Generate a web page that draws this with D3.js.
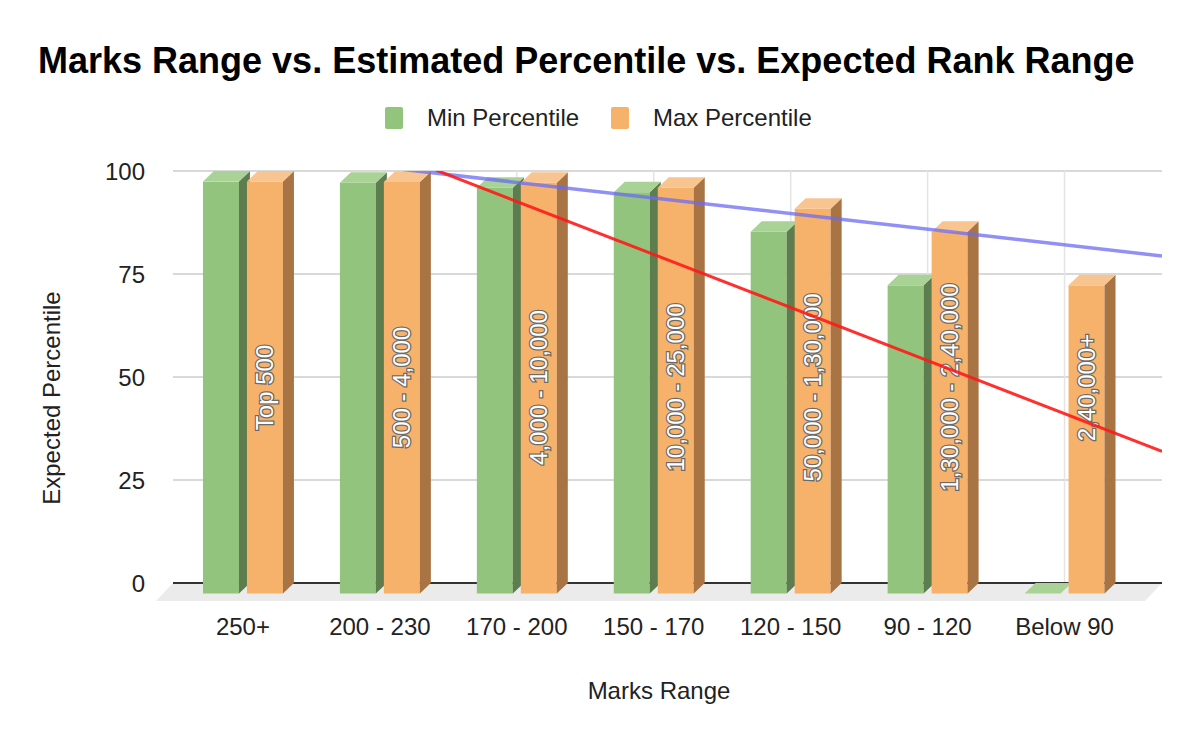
<!DOCTYPE html>
<html>
<head>
<meta charset="utf-8">
<script src="https://cdnjs.cloudflare.com/ajax/libs/d3/7.8.5/d3.min.js"></script>
<style>
  body { margin: 0; background: #fff; }
  text { font-family: "Liberation Sans", Arial, sans-serif; }
</style>
</head>
<body>
<div id="chart"></div>
<script>
// data
const categories = ["250+", "200 - 230", "170 - 200", "150 - 170", "120 - 150", "90 - 120", "Below 90"];
const minPercentile = [99.97, 99.7, 98.5, 97.4, 87.8, 74.8, 0];
const maxPercentile = [100, 99.9, 99.7, 98.5, 93.4, 87.8, 74.8];
const rankRanges = ["Top 500", "500 - 4,000", "4,000 - 10,000", "10,000 - 25,000", "50,000 - 1,30,000", "1,30,000 - 2,40,000", "2,40,000+"];
const yTicks = [0, 25, 50, 75, 100];
const seriesNames = ["Min Percentile", "Max Percentile"];

const width = 1200, height = 742;
const plot = { left: 173, right: 1162, top: 171, bottom: 583 };
const DX = 11, DY = 10.5;      // bar depth (back = front + (DX, -DY))
const FX = 17, FY = 18;        // floor depth

const svg = d3.select("#chart").append("svg")
  .attr("width", width)
  .attr("height", height);

const y = d3.scaleLinear().domain([0, 100]).range([plot.bottom, plot.top]);
const yF = (v) => y(v) + DY; // front plane

const x0 = d3.scaleBand().domain(categories).range([174.5, 1133])
  .paddingInner(0.416).paddingOuter(0.208);
const x1 = d3.scaleBand().domain(seriesNames).range([0, x0.bandwidth()])
  .paddingInner(0.1818);
const cx = (c) => x0(c) + x0.bandwidth() / 2;

const colors = {
  "Min Percentile": { front: "#93c47d", top: "#a9d396", side: "#5e7d4e" },
  "Max Percentile": { front: "#f6b26b", top: "#f8c590", side: "#a87444" },
};

// title
svg.append("text")
  .attr("x", 38).attr("y", 73)
  .attr("font-size", 36).attr("font-weight", "bold").attr("fill", "#000")
  .text("Marks Range vs. Estimated Percentile vs. Expected Rank Range");

// legend
const legendX = [385, 611];
seriesNames.forEach((s, i) => {
  svg.append("rect")
    .attr("x", legendX[i]).attr("y", 107).attr("width", 18).attr("height", 22)
    .attr("rx", 2).attr("fill", colors[s].front);
  svg.append("text")
    .attr("x", legendX[i] + 42).attr("y", 126)
    .attr("font-size", 24).attr("fill", "#222")
    .text(s);
});

// floor
svg.append("polygon")
  .attr("points", [
    [plot.left, plot.bottom], [plot.right, plot.bottom],
    [plot.right - FX, plot.bottom + FY], [plot.left - FX, plot.bottom + FY]
  ].map((p) => p.join(",")).join(" "))
  .attr("fill", "#ebebeb");

// horizontal gridlines
svg.append("g").selectAll("line")
  .data(yTicks.filter((t) => t > 0))
  .join("line")
  .attr("x1", plot.left).attr("x2", plot.right)
  .attr("y1", (d) => y(d)).attr("y2", (d) => y(d))
  .attr("stroke", "#cccccc").attr("stroke-width", 1.5);

// vertical gridlines
svg.append("g").selectAll("line")
  .data(categories)
  .join("line")
  .attr("x1", cx).attr("x2", cx)
  .attr("y1", plot.top).attr("y2", plot.bottom)
  .attr("stroke", "#e4e4e4").attr("stroke-width", 1.5);

// baseline
svg.append("line")
  .attr("x1", plot.left).attr("x2", plot.right)
  .attr("y1", y(0)).attr("y2", y(0))
  .attr("stroke", "#333").attr("stroke-width", 2);

// y tick labels
svg.append("g").selectAll("text")
  .data(yTicks)
  .join("text")
  .attr("x", 145).attr("y", (d) => y(d))
  .attr("text-anchor", "end").attr("dominant-baseline", "central")
  .attr("font-size", 24).attr("fill", "#222")
  .text((d) => d);

// x labels
svg.append("g").selectAll("text")
  .data(categories)
  .join("text")
  .attr("x", cx).attr("y", 635)
  .attr("text-anchor", "middle")
  .attr("font-size", 24).attr("fill", "#222")
  .text((d) => d);

// axis titles
svg.append("text")
  .attr("x", 659).attr("y", 699)
  .attr("text-anchor", "middle").attr("font-size", 24).attr("fill", "#222")
  .text("Marks Range");
svg.append("text")
  .attr("transform", "translate(60,398) rotate(-90)")
  .attr("text-anchor", "middle").attr("font-size", 24).attr("fill", "#222")
  .text("Expected Percentile");

// 3d bars
const pts = (arr) => arr.map((p) => p.join(",")).join(" ");
function drawBar(g, xf, w, v, c) {
  const t = yF(v), b = yF(0);
  g.append("rect").attr("x", xf).attr("y", t).attr("width", w).attr("height", b - t)
    .attr("fill", c.front);
  g.append("polygon")
    .attr("points", pts([[xf + w, t], [xf + w + DX, y(v)], [xf + w + DX, y(0)], [xf + w, b]]))
    .attr("fill", c.side);
  g.append("polygon")
    .attr("points", pts([[xf, t], [xf + DX, y(v)], [xf + w + DX, y(v)], [xf + w, t]]))
    .attr("fill", c.top);
}

const bars = svg.append("g");
categories.forEach((c, i) => {
  const vals = [minPercentile[i], maxPercentile[i]];
  seriesNames.forEach((s, j) => {
    drawBar(bars, x0(c) + x1(s), x1.bandwidth(), vals[j], colors[s]);
  });
});

// rank labels on max bars
svg.append("g").selectAll("text")
  .data(categories)
  .join("text")
  .attr("transform", (d) => `translate(${x0(d) + x1("Max Percentile") + x1.bandwidth() / 2},${yF(50)}) rotate(-90)`)
  .attr("text-anchor", "middle").attr("dominant-baseline", "central")
  .attr("font-size", 24)
  .attr("fill", "#fff").attr("stroke", "#6a6a6a").attr("stroke-width", 2.5)
  .attr("paint-order", "stroke")
  .text((d, i) => rankRanges[i]);

// linear trendlines (least squares over category index 1..n)
function trend(vals) {
  const n = vals.length;
  const xs = vals.map((_, i) => i + 1);
  const mx = d3.mean(xs), my = d3.mean(vals);
  const slope = d3.sum(xs, (xv, i) => (xv - mx) * (vals[i] - my)) / d3.sum(xs, (xv) => (xv - mx) ** 2);
  return (xv) => my + slope * (xv - mx);
}
const step = x0.step();
const pxToIdx = (px) => 1 + (px - cx(categories[0])) / step;

svg.append("clipPath").attr("id", "plotclip")
  .append("rect")
  .attr("x", plot.left).attr("y", plot.top)
  .attr("width", plot.right - plot.left).attr("height", plot.bottom - plot.top);

const lines = svg.append("g").attr("clip-path", "url(#plotclip)");
const line = d3.line().x((d) => d[0]).y((d) => d[1]);
[
  { vals: maxPercentile, color: "#6b6bf2", opacity: 0.75, w: 3.5 },
  { vals: minPercentile, color: "#ff1a1a", opacity: 0.9, w: 3 },
].forEach((t) => {
  const f = trend(t.vals);
  const xs = [plot.left, plot.right];
  lines.append("path")
    .attr("d", line(xs.map((px) => [px, y(f(pxToIdx(px)))])))
    .attr("fill", "none")
    .attr("stroke", t.color).attr("stroke-opacity", t.opacity)
    .attr("stroke-width", t.w);
});
</script>
</body>
</html>
